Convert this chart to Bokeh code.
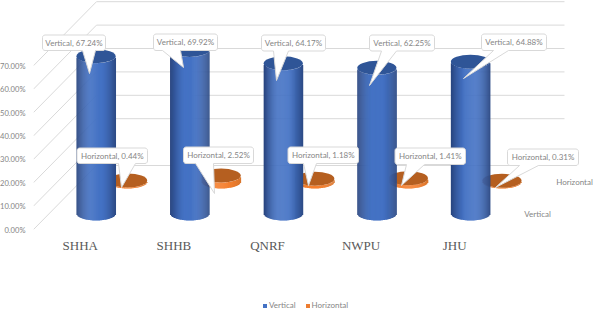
import math
from bokeh.embed import file_html
from bokeh.resources import INLINE
from bokeh.plotting import figure
from bokeh.models import (Range1d, FixedTicker, PrintfTickFormatter, Legend, LegendItem,
                          LinearAxis)
from bokeh.core.properties import value

categories = ["SHHA", "SHHB", "QNRF", "NWPU", "JHU"]
vertical = [67.24, 69.92, 64.17, 62.25, 64.88]
horizontal = [0.44, 2.52, 1.18, 1.41, 0.31]
y_ticks = [0, 10, 20, 30, 40, 50, 60, 70]
back_grid = [0, 20, 30, 40, 50, 60, 70]

# layout of the picture, in page pixels
W, H = 596, 310
LEFT, BOTTOM = 33, 229
SHIFT = 3
CAT_PX = 93.6
PCT_PX = 2.34
DEPTH_X = 63 / CAT_PX
DEPTH_Y = 64 / PCT_PX
HALF_W = 19.6 / CAT_PX
HALF_H = 7 / PCT_PX
GREY = "#858585"
GRID = "#d9d9d9"
FONT = "Lato"


def px(x, y):
    return (x - LEFT) / CAT_PX, (BOTTOM - y) / PCT_PX


p = figure(width=W + SHIFT, height=H, output_backend="svg", toolbar_location=None,
           x_range=Range1d(0, (W - LEFT) / CAT_PX),
           y_range=Range1d((BOTTOM - H) / PCT_PX, BOTTOM / PCT_PX),
           x_axis_location=None, y_axis_location=None,
           min_border_left=LEFT + SHIFT, min_border_right=0, min_border_top=0,
           min_border_bottom=0)
p.margin = (0, 0, 0, -SHIFT)
p.outline_line_color = None
p.grid.visible = False
p.background_fill_color = "white"

# value axis
ax_y = LinearAxis(ticker=FixedTicker(ticks=y_ticks),
                  formatter=PrintfTickFormatter(format="%.2f%%"))
ax_y.axis_line_color = None
ax_y.major_tick_line_color = None
ax_y.minor_tick_line_color = None
ax_y.major_tick_out = 0
ax_y.major_tick_in = 0
ax_y.minor_tick_out = 0
ax_y.minor_tick_in = 0
ax_y.major_label_text_font = FONT
ax_y.major_label_text_font_size = "7.6px"
ax_y.major_label_text_color = GREY
ax_y.major_label_standoff = 8
p.add_layout(ax_y, "left")

centers = [i + 0.5 for i in range(len(categories))]

# walls
n_cat = len(categories)
p.multi_line(xs=[[0, DEPTH_X] for _ in y_ticks],
             ys=[[v, v + DEPTH_Y] for v in y_ticks],
             line_color=GRID, line_width=1)
p.multi_line(xs=[[DEPTH_X, DEPTH_X + n_cat] for _ in back_grid],
             ys=[[v + DEPTH_Y, v + DEPTH_Y] for v in back_grid],
             line_color=GRID, line_width=1)


def hex_rgb(h):
    return tuple(int(h[i:i + 2], 16) for i in (1, 3, 5))


def mix(a, b, t):
    a, b = hex_rgb(a), hex_rgb(b)
    return "#%02x%02x%02x" % tuple(round(a[i] + (b[i] - a[i]) * t) for i in range(3))


def cylinder(vals, depth, mid, edge_l, edge_r, cap):
    strips = 40
    L, R, T, B, C = [], [], [], [], []
    cx, cap_y = [], []
    for i, v in enumerate(vals):
        x0 = centers[i] + depth * DEPTH_X
        y0 = depth * DEPTH_Y
        for k in range(strips):
            a = -1 + 2 * k / strips
            b = -1 + 2 * (k + 1) / strips
            m = (a + b) / 2
            drop = HALF_H * math.sqrt(max(0, 1 - m * m))
            L.append(x0 + a * HALF_W)
            R.append(x0 + b * HALF_W + 0.004)
            T.append(y0 + v - drop)
            B.append(y0 - drop)
            t = max(0.0, (abs(m) - 0.25) / 0.75) ** 1.5
            C.append(mix(mid, edge_l if m < 0 else edge_r, t))
        cx.append(x0)
        cap_y.append(y0 + v)
    p.quad(left=L, right=R, top=T, bottom=B, fill_color=C, line_color=None)
    p.ellipse(x=cx, y=cap_y, width=2 * HALF_W, height=2 * HALF_H,
              fill_color=cap, line_color=None)


cylinder(horizontal, 0.75, "#f58030", "#d9752c", "#d9752c", "#b55f20")
cylinder(vertical, 0.25, "#4472c4", "#27437c", "#2c4a85", "#2f5597")

# category labels
label_y = px(0, 244.7)[1]
p.text(x=centers, y=[label_y] * n_cat, text=categories,
       text_font=value("Liberation Serif"), text_font_size="13px", text_color="#595959",
       text_align="center", text_baseline="middle")

# callouts: (left, right, top, bottom, tip x, tip y, base start, base end) in page pixels
vertical_boxes = [
    (42, 105, 34.5, 50, 89, 73, 82, 95),
    (153, 217, 33.5, 50, 183, 67, 162, 180),
    (261, 325, 34.5, 50.5, 276, 80, 273, 288),
    (369, 434, 34.5, 50.5, 369, 85, 381, 396),
    (481, 546, 33.5, 50, 463, 78, 493, 508),
]
horizontal_boxes = [
    (76.5, 147, 147.5, 163, 121, 187, 118, 135),
    (183, 253, 146.5, 163, 214, 193, 195, 213),
    (287.5, 358, 146.5, 163, 308, 185, 303, 316),
    (394.5, 465, 147.5, 164, 401, 185, 406, 424),
    (507, 578, 148.5, 165, 495, 187, 519, 538),
]


def callout(box):
    l, r, t, b, tx, ty, b0, b1 = box
    rad = 2.5
    pts = []
    for cx, cy, a0 in [(l + rad, t + rad, 180), (r - rad, t + rad, 270), (r - rad, b - rad, 0)]:
        for s in range(4):
            ang = math.radians(a0 + s * 30)
            pts.append((cx + rad * math.cos(ang), cy + rad * math.sin(ang)))
    pts += [(b1, b), (tx, ty), (b0, b)]
    for s in range(4):
        ang = math.radians(90 + s * 30)
        pts.append((l + rad + rad * math.cos(ang), b - rad + rad * math.sin(ang)))
    d = [px(*q) for q in pts]
    return [q[0] for q in d], [q[1] for q in d]


all_boxes = vertical_boxes + horizontal_boxes
polys = [callout(b) for b in all_boxes]
p.patches(xs=[q[0] for q in polys], ys=[q[1] for q in polys],
          fill_color="white", line_color=GRID, line_width=1)

texts = ["Vertical, %.2f%%" % v for v in vertical] + ["Horizontal, %.2f%%" % v for v in horizontal]
tx = [px((b[0] + b[1]) / 2, (b[2] + b[3]) / 2) for b in all_boxes]
p.text(x=[q[0] for q in tx], y=[q[1] for q in tx], text=texts,
       text_font=value(FONT), text_font_size="8px", text_color=GREY,
       text_align="center", text_baseline="middle")

# series names on the depth axis
sx = [n_cat + 0.25 * DEPTH_X + 0.075, n_cat + 0.75 * DEPTH_X + 0.08]
sy = [0.25 * DEPTH_Y, 0.75 * DEPTH_Y]
p.text(x=sx, y=sy, text=["Vertical", "Horizontal"],
       text_font=value(FONT), text_font_size="8px", text_color=GREY,
       text_align="left", text_baseline="middle")

# legend: its swatches come from two off-range rectangles
r1 = p.quad(left=[-2], right=[-1], top=[-1000], bottom=[-1001], fill_color="#4472c4", line_color=None)
r2 = p.quad(left=[-2], right=[-1], top=[-1000], bottom=[-1001], fill_color="#ed7d31", line_color=None)
legend = Legend(items=[LegendItem(label="Vertical", renderers=[r1]),
                       LegendItem(label="Horizontal", renderers=[r2])],
                orientation="horizontal", location=(229, 0),
                border_line_color=None, background_fill_alpha=0,
                glyph_width=5, glyph_height=5, label_text_font=FONT,
                label_text_font_size="8px", label_text_color=GREY,
                label_standoff=2, spacing=9, padding=0, margin=0, label_height=8)
p.add_layout(legend)

open("out.html", "w").write(file_html(p, INLINE))
